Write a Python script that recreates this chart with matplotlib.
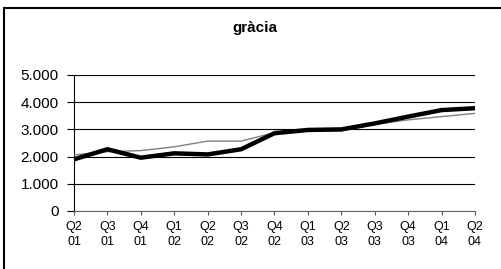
import matplotlib.pyplot as plt
from matplotlib.patches import Rectangle
from matplotlib.ticker import FuncFormatter

plt.rcParams['font.family'] = ['Liberation Sans', 'DejaVu Sans']

quarters = ['Q2\n01', 'Q3\n01', 'Q4\n01', 'Q1\n02', 'Q2\n02', 'Q3\n02', 'Q4\n02',
            'Q1\n03', 'Q2\n03', 'Q3\n03', 'Q4\n03', 'Q1\n04', 'Q2\n04']
thick = [1900, 2270, 1960, 2120, 2080, 2270, 2860, 2980, 3000, 3220, 3470, 3710, 3780]
thin = [2060, 2180, 2220, 2360, 2570, 2570, 2880, 2950, 2950, 3190, 3350, 3470, 3590]

fig = plt.figure(figsize=(5.02, 2.69), dpi=100)
ax = fig.add_axes([74 / 502, 1 - 211 / 269, 401 / 502, 136 / 269])

x = list(range(len(quarters)))
ax.plot(x, thin, color='#808080', lw=1.0, zorder=3)
ax.plot(x, thick, color='black', lw=3.2, zorder=4, solid_joinstyle='miter')

ax.set_xlim(0, len(quarters) - 1)
ax.set_ylim(0, 5000)
ax.set_yticks([0, 1000, 2000, 3000, 4000, 5000])
ax.yaxis.set_major_formatter(FuncFormatter(lambda v, p: f'{int(v):,}'.replace(',', '.')))
ax.set_xticks(x)
ax.set_xticklabels(quarters, fontsize=9, linespacing=1.4)
ax.tick_params(axis='y', labelsize=11, length=5, width=0.8, pad=6)
ax.tick_params(axis='x', length=3, width=0.8, pad=4, color='#555555')
ax.grid(axis='y', color='black', lw=0.8)
ax.set_axisbelow(True)

for s in ['top', 'right']:
    ax.spines[s].set_visible(False)
ax.spines['bottom'].set_color('#666666')
ax.spines['left'].set_color('black')

fig.text(255 / 502, 1 - 28 / 269, 'gràcia', ha='center', va='center',
         fontsize=11, fontweight='bold')

fig.patches.append(Rectangle((4 / 502, -0.1), 1.2, 1 - 8 / 269 + 0.1,
                             transform=fig.transFigure, fill=False,
                             edgecolor='black', lw=1.5))

fig.savefig('out.png', dpi=100)
